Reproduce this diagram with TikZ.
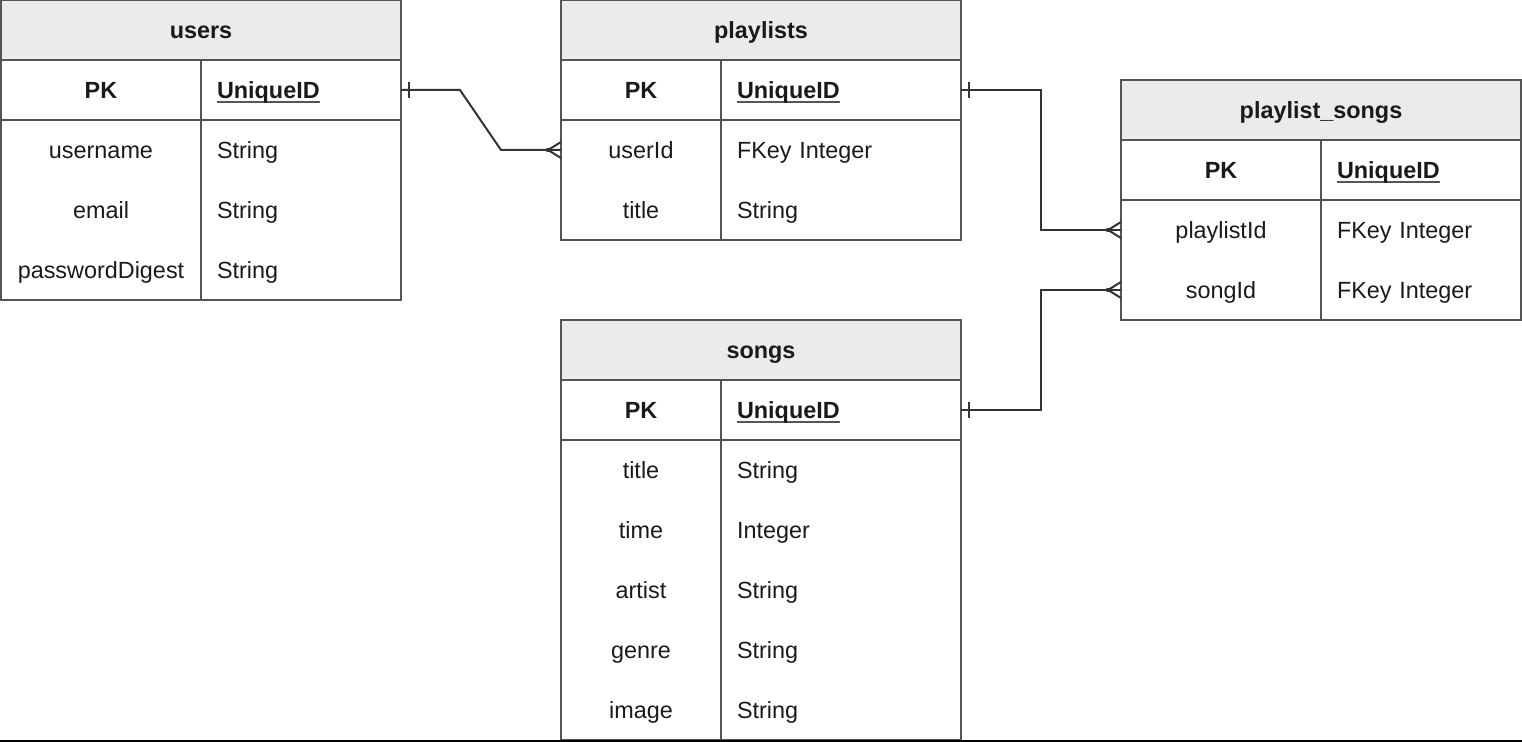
\documentclass[tikz,border=0pt]{standalone}
\usepackage{fontspec}
\setmainfont{Liberation Sans}
\usetikzlibrary{positioning}
\definecolor{hdrgray}{HTML}{EBEBEB}
\definecolor{linegray}{HTML}{555555}
\definecolor{relgray}{HTML}{333333}
\definecolor{txt}{HTML}{1A1A1A}
\newcommand{\keyid}[1]{\setbox0\hbox{#1}\rlap{\color{linegray}\rule[-2.1pt]{\wd0}{0.9pt}}\box0}

\begin{document}
\begin{tikzpicture}[x=0.5pt,y=-0.5pt,on grid,node distance=30pt and 100pt,
    text=txt,font=\fontsize{11.7}{14}\selectfont,
    tname/.style={draw=linegray,line width=1pt,fill=hdrgray,minimum width=200pt,
        minimum height=30pt,inner sep=0pt,outer sep=0pt,text height=10pt,text depth=1pt,
        font=\fontsize{11.7}{14}\selectfont\bfseries},
    keycell/.style={minimum width=100pt,minimum height=30pt,inner sep=0pt,outer sep=0pt,
        text height=10pt,text depth=1pt},
    valcell/.style={keycell,text width=84pt,align=left,inner xsep=8pt},
    pkcell/.style={keycell,draw=linegray,line width=1pt,font=\fontsize{11.7}{14}\selectfont\bfseries},
    idcell/.style={valcell,draw=linegray,line width=1pt,font=\fontsize{11.7}{14}\selectfont\bfseries},
    box/.style={draw=linegray,line width=1pt},
    rel/.style={draw=relgray,line width=1pt}]
\useasboundingbox (0,0) rectangle (1522,742);

% users
\node[tname] (users) at (201,30) {users};
\node[pkcell,below left=30pt and 50pt of users] (users-pk) {PK};
\node[idcell,right=of users-pk] (users-id) {\keyid{UniqueID}};
\node[keycell,below=of users-pk] (users-name) {username};
\node[valcell,right=of users-name] (users-name-t) {String};
\node[keycell,below=of users-name] (users-mail) {email};
\node[valcell,right=of users-mail] (users-mail-t) {String};
\node[keycell,below=of users-mail] (users-pw) {passwordDigest};
\node[valcell,right=of users-pw] (users-pw-t) {String};
\draw[box] (users-pk.south west) rectangle (users-pw-t.south east);
\draw[box] (users-pk.south east) -- (users-pw.south east);

% playlist_songs
\node[tname] (plsongs) at (1321,110) {playlist\_songs};
\node[pkcell,below left=30pt and 50pt of plsongs] (ps-pk) {PK};
\node[idcell,right=of ps-pk] (ps-id) {\keyid{UniqueID}};
\node[keycell,below=of ps-pk] (ps-list) {playlistId};
\node[valcell,right=of ps-list] (ps-list-t) {FKey Integer};
\node[keycell,below=of ps-list] (ps-song) {songId};
\node[valcell,right=of ps-song] (ps-song-t) {FKey Integer};
\draw[box] (ps-pk.south west) rectangle (ps-song-t.south east);
\draw[box] (ps-pk.south east) -- (ps-song.south east);

\begin{scope}[keycell/.append style={minimum width=80pt},
    valcell/.append style={text width=104pt}]
% playlists
\node[tname] (playlists) at (761,30) {playlists};
\node[pkcell,below left=30pt and 60pt of playlists] (pl-pk) {PK};
\node[idcell,right=of pl-pk] (pl-id) {\keyid{UniqueID}};
\node[keycell,below=of pl-pk] (pl-user) {userId};
\node[valcell,right=of pl-user] (pl-user-t) {FKey Integer};
\node[keycell,below=of pl-user] (pl-title) {title};
\node[valcell,right=of pl-title] (pl-title-t) {String};
\draw[box] (pl-pk.south west) rectangle (pl-title-t.south east);
\draw[box] (pl-pk.south east) -- (pl-title.south east);

% songs
\node[tname] (songs) at (761,350) {songs};
\node[pkcell,below left=30pt and 60pt of songs] (sg-pk) {PK};
\node[idcell,right=of sg-pk] (sg-id) {\keyid{UniqueID}};
\node[keycell,below=of sg-pk] (sg-title) {title};
\node[valcell,right=of sg-title] (sg-title-t) {String};
\node[keycell,below=of sg-title] (sg-time) {time};
\node[valcell,right=of sg-time] (sg-time-t) {Integer};
\node[keycell,below=of sg-time] (sg-artist) {artist};
\node[valcell,right=of sg-artist] (sg-artist-t) {String};
\node[keycell,below=of sg-artist] (sg-genre) {genre};
\node[valcell,right=of sg-genre] (sg-genre-t) {String};
\node[keycell,below=of sg-genre] (sg-image) {image};
\node[valcell,right=of sg-image] (sg-image-t) {String};
\draw[box] (sg-pk.south west) rectangle (sg-image-t.south east);
\draw[box] (sg-pk.south east) -- (sg-image.south east);
\end{scope}

% relations
\draw[rel] (users-id.east) -- +(59,0) -- ([xshift=-30pt]pl-user.west) -- (pl-user.west);
\draw[rel] (pl-id.east) -- +(80,0) |- (ps-list.west);
\draw[rel] (sg-id.east) -- +(80,0) |- (ps-song.west);

% one ends
\foreach \n in {users-id,pl-id,sg-id}
  \draw[rel] ([xshift=4pt,yshift=4pt]\n.east) -- ([xshift=4pt,yshift=-4pt]\n.east);

% many ends
\foreach \n in {pl-user,ps-list,ps-song}{
  \draw[rel] ([yshift=4pt]\n.west) -- ([xshift=-6.5pt]\n.west) -- ([yshift=-4pt]\n.west);
  \fill[relgray] ([xshift=-6.5pt]\n.west) circle (1.1pt);
}

\draw[black,line width=1pt] (0,741) -- (1522,741);
\end{tikzpicture}
\end{document}
